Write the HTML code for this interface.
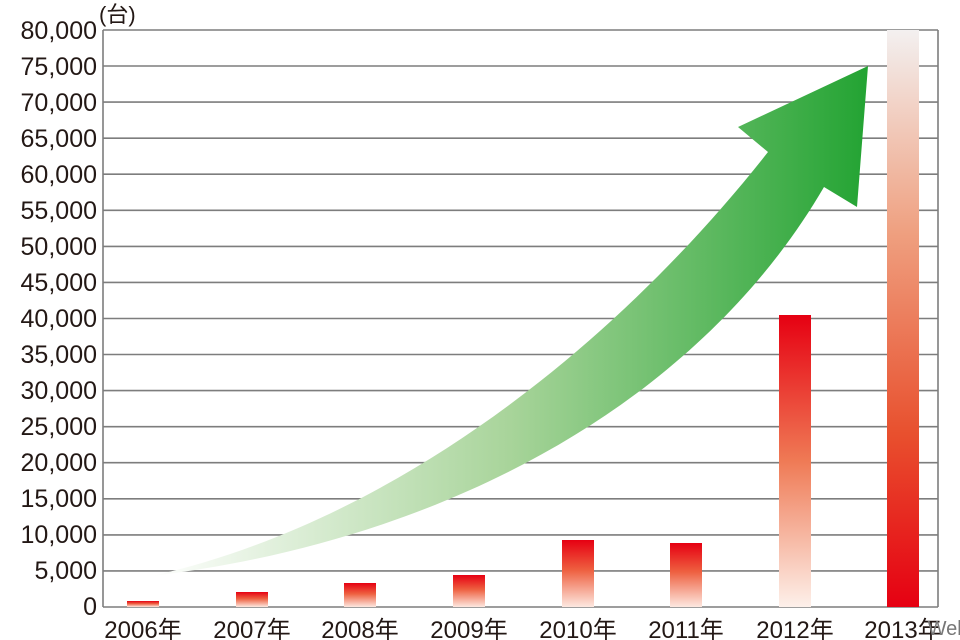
<!DOCTYPE html>
<html><head><meta charset="utf-8"><style>
html,body{margin:0;padding:0;background:#fff;}
svg{display:block;}
text{font-family:"Liberation Sans","Noto Sans CJK JP",sans-serif;fill:#231815;}
</style></head><body>
<svg width="960" height="640" viewBox="0 0 960 640" xmlns="http://www.w3.org/2000/svg">
<defs>
<linearGradient id="rb" x1="0" y1="0" x2="0" y2="1">
<stop offset="0" stop-color="#e60012"/><stop offset="0.45" stop-color="#ee6040"/><stop offset="1" stop-color="#fde8e0"/>
</linearGradient>
<linearGradient id="r12" x1="0" y1="0" x2="0" y2="1">
<stop offset="0" stop-color="#e60012"/><stop offset="0.5" stop-color="#ef7a55"/><stop offset="1" stop-color="#fdf0ea"/>
</linearGradient>
<linearGradient id="r13" x1="0" y1="0" x2="0" y2="1">
<stop offset="0" stop-color="#f3f0f0"/><stop offset="0.35" stop-color="#efa080"/><stop offset="0.7" stop-color="#e8502e"/><stop offset="1" stop-color="#e60012"/>
</linearGradient>
<linearGradient id="gr" x1="150" y1="0" x2="870" y2="0" gradientUnits="userSpaceOnUse">
<stop offset="0" stop-color="#ffffff"/><stop offset="0.5" stop-color="#a8d49a"/><stop offset="1" stop-color="#22a332"/>
</linearGradient>
</defs>
<g stroke="#7d7d7d" stroke-width="1.6">
<line x1="103" y1="30" x2="938" y2="30"/>
<line x1="103" y1="66" x2="938" y2="66"/>
<line x1="103" y1="102.1" x2="938" y2="102.1"/>
<line x1="103" y1="138.2" x2="938" y2="138.2"/>
<line x1="103" y1="174.2" x2="938" y2="174.2"/>
<line x1="103" y1="210.3" x2="938" y2="210.3"/>
<line x1="103" y1="246.4" x2="938" y2="246.4"/>
<line x1="103" y1="282.4" x2="938" y2="282.4"/>
<line x1="103" y1="318.5" x2="938" y2="318.5"/>
<line x1="103" y1="354.5" x2="938" y2="354.5"/>
<line x1="103" y1="390.6" x2="938" y2="390.6"/>
<line x1="103" y1="426.7" x2="938" y2="426.7"/>
<line x1="103" y1="462.7" x2="938" y2="462.7"/>
<line x1="103" y1="498.8" x2="938" y2="498.8"/>
<line x1="103" y1="534.9" x2="938" y2="534.9"/>
<line x1="103" y1="570.9" x2="938" y2="570.9"/>
<line x1="103" y1="607" x2="938" y2="607"/>
<line x1="103" y1="30" x2="103" y2="607"/>
<line x1="938" y1="30" x2="938" y2="607"/>
</g>
<path d="M152,576 C400,520 620,340 768,152 L738,127 L868,66 L857,207 L824,187 C700,400 450,540 152,576 Z" fill="url(#gr)"/>
<rect x="127" y="601" width="32" height="6" fill="url(#rb)"/>
<rect x="236" y="592" width="32" height="15" fill="url(#rb)"/>
<rect x="344" y="583" width="32" height="24" fill="url(#rb)"/>
<rect x="453" y="575" width="32" height="32" fill="url(#rb)"/>
<rect x="562" y="540" width="32" height="67" fill="url(#rb)"/>
<rect x="670" y="543" width="32" height="64" fill="url(#rb)"/>
<rect x="779" y="315" width="32" height="292" fill="url(#r12)"/>
<rect x="887" y="30" width="32" height="577" fill="url(#r13)"/>
<g font-size="25" text-anchor="end">
<text x="97" y="39">80,000</text><text x="97" y="75">75,000</text><text x="97" y="111">70,000</text>
<text x="97" y="147">65,000</text><text x="97" y="183">60,000</text><text x="97" y="219">55,000</text>
<text x="97" y="255">50,000</text><text x="97" y="291">45,000</text><text x="97" y="327">40,000</text>
<text x="97" y="363">35,000</text><text x="97" y="399">30,000</text><text x="97" y="435">25,000</text>
<text x="97" y="471">20,000</text><text x="97" y="507">15,000</text><text x="97" y="543">10,000</text>
<text x="97" y="579">5,000</text><text x="97" y="615">0</text>
</g>
<text x="99" y="22" font-size="22">(台)</text>
<g font-size="24" text-anchor="middle">
<text x="143" y="638">2006年</text><text x="252" y="638">2007年</text><text x="360" y="638">2008年</text>
<text x="469" y="638">2009年</text><text x="578" y="638">2010年</text><text x="686" y="638">2011年</text>
<text x="795" y="638">2012年</text><text x="903" y="638">2013年</text>
</g>
<text x="948" y="635" font-size="20" text-anchor="middle" style="fill:#777">Web</text>
</svg>
</body></html>
